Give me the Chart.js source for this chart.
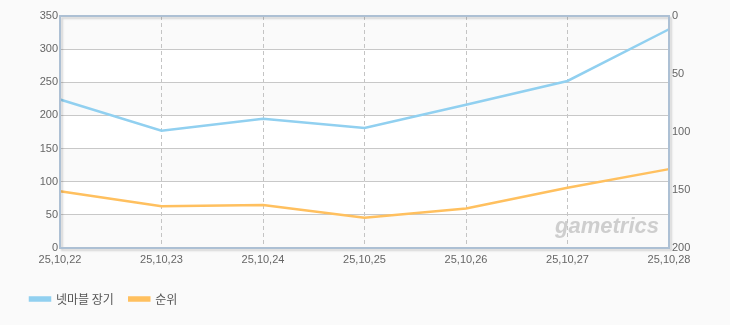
<!DOCTYPE html>
<html>
<head>
<meta charset="utf-8">
<script src="https://cdn.jsdelivr.net/npm/chart.js@4.4.1/dist/chart.umd.min.js"></script>
<style>
    html, body { margin: 0; padding: 0; background: #fafafa; }
    #wrap { width: 730px; height: 325px; }
</style>
</head>
<body>
<div id="wrap"><canvas id="trend-chart" width="730" height="325"></canvas></div>
<script>
/* values */
const DATES = ['25,10,22', '25,10,23', '25,10,24', '25,10,25', '25,10,26', '25,10,27', '25,10,28'];
const USAGE = [224, 177, 195, 181, 216, 252, 330];   // 넷마블 장기, left axis
const RANK = [151, 164, 163, 174, 166, 148, 132];    // 순위, right axis (reversed)
const LEFT_TICKS = [0, 50, 100, 150, 200, 250, 300, 350];

const BLUE = 'rgb(145, 208, 240)';
const ORANGE = 'rgb(255, 192, 95)';

// page colour + alternating bands, drawn before the grid
const backdrop = {
    id: 'backdrop',
    beforeDraw(chart) {
        const {ctx, chartArea: a, scales: {y}} = chart;
        ctx.save();
        ctx.fillStyle = '#fafafa';
        ctx.fillRect(0, 0, chart.width, chart.height);
        for (let i = 0; i < LEFT_TICKS.length - 1; i++) {
            const top = y.getPixelForValue(LEFT_TICKS[i + 1]);
            const bot = y.getPixelForValue(LEFT_TICKS[i]);
            ctx.fillStyle = (i % 2 === 0) ? '#fafafa' : '#ffffff';
            ctx.fillRect(a.left, top, a.right - a.left, bot - top);
        }
        ctx.restore();
    }
};

// watermark + frame round the plot
const frame = {
    id: 'frame',
    beforeDatasetsDraw(chart) {
        const {ctx, chartArea: a} = chart;
        ctx.save();
        ctx.font = 'italic bold 22px "Liberation Sans"';
        ctx.fillStyle = 'rgba(195,195,195,0.8)';
        ctx.textAlign = 'right';
        ctx.textBaseline = 'alphabetic';
        ctx.fillText('gametrics', a.right - 10, a.bottom - 15);
        ctx.restore();
    },
    afterDatasetsDraw(chart) {
        const {ctx, chartArea: a} = chart;
        ctx.save();
        ctx.shadowColor = 'rgba(0,0,0,0.15)';
        ctx.shadowOffsetX = 2;
        ctx.shadowOffsetY = 2;
        ctx.shadowBlur = 2;
        ctx.strokeStyle = '#adc0d4';
        ctx.lineWidth = 2;
        ctx.strokeRect(a.left, a.top, a.right - a.left, a.bottom - a.top);
        ctx.restore();
    }
};

function initTrendChart() {
    const ctx = document.getElementById('trend-chart');
    return new Chart(ctx, {
        type: 'line',
        data: {
            labels: DATES,
            datasets: [
                {
                    label: '넷마블 장기',
                    data: USAGE,
                    yAxisID: 'y',
                    borderColor: BLUE,
                    backgroundColor: BLUE,
                    borderWidth: 2.5,
                    pointRadius: 0,
                    tension: 0
                },
                {
                    label: '순위',
                    data: RANK,
                    yAxisID: 'y2',
                    borderColor: ORANGE,
                    backgroundColor: ORANGE,
                    borderWidth: 2.5,
                    pointRadius: 0,
                    tension: 0
                }
            ]
        },
        options: {
            responsive: false,
            animation: false,
            layout: {padding: {left: 20, right: 31, top: 16, bottom: 10}},
            plugins: {
                tooltip: {enabled: false},
                legend: {
                    position: 'bottom',
                    align: 'start',
                    labels: {
                        boxWidth: 20,
                        boxHeight: 3,
                        padding: 10,
                        color: '#555',
                        font: {family: '"Noto Sans CJK KR"', size: 12},
                        generateLabels(chart) {
                            // a little more room after each label, as in the picture
                            return Chart.defaults.plugins.legend.labels.generateLabels(chart).map(item => {
                                item.text = item.text + '  ';
                                return item;
                            });
                        }
                    }
                }
            },
            scales: {
                x: {
                    offset: false,
                    grid: {color: '#c4c4c4', lineWidth: 1, drawTicks: false},
                    border: {display: false, dash: [4, 3]},
                    ticks: {
                        color: '#666',
                        padding: 5,
                        maxRotation: 0,
                        font: {family: '"Liberation Sans"', size: 11}
                    },
                    afterFit(scale) { scale.height = 35; }
                },
                y: {
                    position: 'left',
                    min: 0,
                    max: 350,
                    grid: {color: '#c8c8c8', lineWidth: 1, drawTicks: false},
                    border: {display: false},
                    ticks: {
                        stepSize: 50,
                        color: '#666',
                        padding: 2,
                        font: {family: '"Liberation Sans"', size: 11}
                    },
                    afterFit(scale) { scale.width = 40; }
                },
                y2: {
                    position: 'right',
                    min: 0,
                    max: 200,
                    reverse: true,
                    grid: {drawOnChartArea: false, drawTicks: false},
                    border: {display: false},
                    ticks: {
                        stepSize: 50,
                        color: '#666',
                        padding: 3,
                        font: {family: '"Liberation Sans"', size: 11}
                    },
                    afterFit(scale) { scale.width = 30; }
                }
            }
        },
        plugins: [backdrop, frame]
    });
}

var trendChart = initTrendChart();
</script>
</body>
</html>
